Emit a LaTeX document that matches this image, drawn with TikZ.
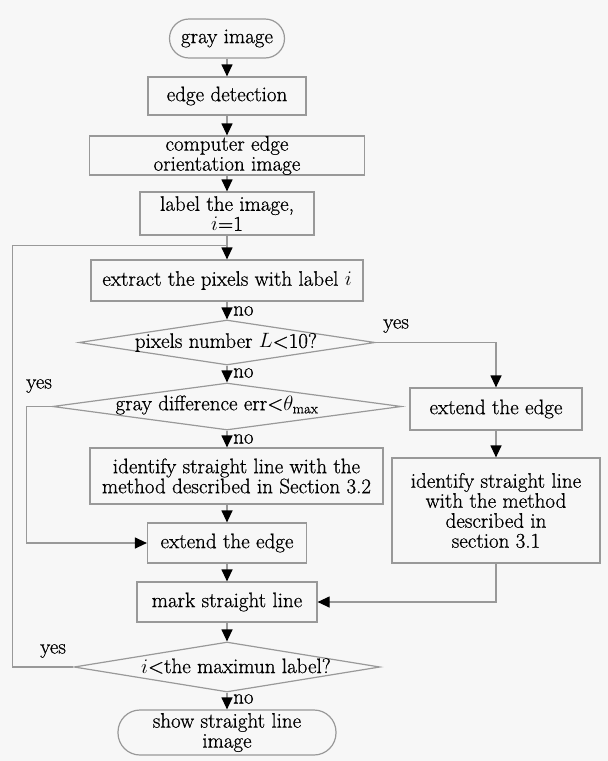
\documentclass[tikz,border=0pt]{standalone}
\usepackage{fontspec}
\setmainfont{Latin Modern Roman}[FakeBold=0.7]
\usetikzlibrary{arrows.meta,shapes.geometric}
\begin{document}
\begin{tikzpicture}[x=1pt,y=-1pt,
  font=\fontsize{21}{20}\selectfont,
  box/.style={draw=gray!80, line width=1.2pt, rectangle, inner sep=0pt, align=center},
  term/.style={box, rounded corners=#1},
  dia/.style={draw=gray!80, line width=1.2pt, diamond, inner sep=0pt},
  conn/.style={draw=gray!80, line width=1.2pt, -{Triangle[length=12pt,width=11pt,color=black,fill=black]}},
  plain/.style={draw=gray!80, line width=1.2pt},
  lbl/.style={inner sep=0pt, anchor=west}
]
\fill[black!3] (0,0) rectangle (608,761);
\useasboundingbox (0,0) rectangle (608,761);

% nodes
\node[term=19.5pt, minimum width=115pt, minimum height=39pt] (start) at (227,38.5) {gray image};
\node[box, minimum width=158pt, minimum height=38pt] (ed) at (227,96) {edge detection};
\node[box, minimum width=275pt, minimum height=39pt] (ceo) at (227,155.5) {computer edge\\orientation image};
\node[box, minimum width=174pt, minimum height=43pt] (lab) at (227,213.5) {label the image,\\$i$=1};
\node[box, minimum width=272pt, minimum height=41pt] (ext) at (227,280.5) {extract the pixels with label $i$};
\node[dia, minimum width=296pt, minimum height=45pt] (d1) at (227,342.5) {};
\node (d1t) at (226,342.5) {pixels number $L$<10?};
\node[dia, minimum width=349pt, minimum height=47pt] (d2) at (227,406.5) {};
\node (d2t) at (217,405) {gray difference err<$\theta_{\mathrm{max}}$};
\node[box, minimum width=172pt, minimum height=42pt] (er) at (496,409) {extend the edge};
\node[box, minimum width=293pt, minimum height=56pt] (id1) at (236.5,476) {identify straight line with the\\method described in Section 3.2};
\node[box, minimum width=208pt, minimum height=105pt] (idr) at (496,510.5) {identify straight line\\with the method\\described in\\section 3.1};
\node[box, minimum width=159pt, minimum height=40pt] (em) at (227,543) {extend the edge};
\node[box, minimum width=180pt, minimum height=40pt] (mk) at (227,602) {mark straight line};
\node[dia, minimum width=306pt, minimum height=50pt] (d3) at (227,667) {};
\node (d3t) at (236,666) {$i$<the maximun label?};
\node[term=22pt, minimum width=218pt, minimum height=45pt] (end) at (227,732.5) {show straight line\\image};

% labels
\node[lbl] (no1) at (233,311) {no};
\node[lbl] (no2) at (233,373) {no};
\node[lbl] (no3) at (233,439) {no};
\node[lbl] (no4) at (233,699) {no};
\node[lbl] (yes1) at (383,326) {yes};
\node[lbl] (yes2) at (26,386) {yes};
\node[lbl] (yes3) at (40,651) {yes};

% helper coordinates
\coordinate (junc) at (227,245.7);
\coordinate (lc) at (12.7,245.7);
\coordinate (ly) at (26.4,470);

% connectors
\draw[conn] (start) -- (ed);
\draw[conn] (ed) -- (ceo);
\draw[conn] (ceo) -- (lab);
\draw[conn] (lab) -- (ext);
\draw[plain] (d3.west) -| (lc) -- (junc);
\draw[conn] (ext) -- (d1);
\draw[conn] (d1) -- (d2);
\draw[conn] (d1.east) -| (er.north);
\draw[conn] (d2.south) -- (d2.south |- id1.north);
\draw[conn] (id1.south -| em.north) -- (em.north);
\draw[conn] (d2.west) -| (ly) |- (em.west);
\draw[conn] (er) -- (idr);
\draw[conn] (idr.south) |- (mk.east);
\draw[conn] (em) -- (mk);
\draw[conn] (mk) -- (d3);
\draw[conn] (d3) -- (end);
\end{tikzpicture}
\end{document}
